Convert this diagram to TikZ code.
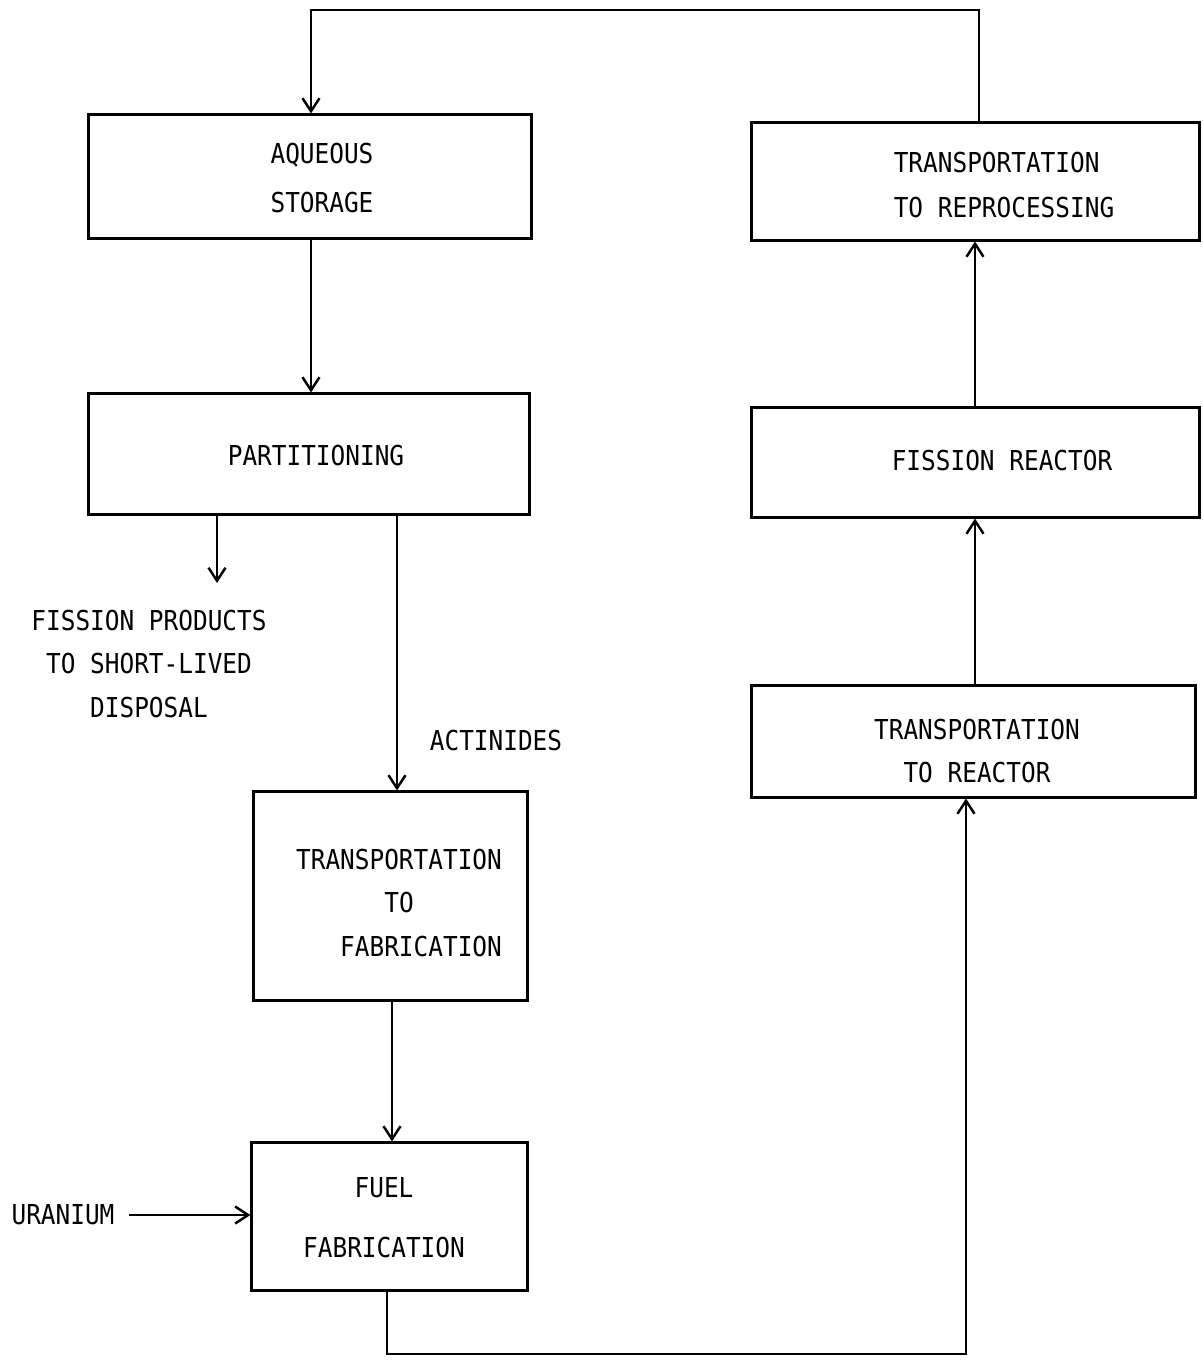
\documentclass[tikz,border=0pt]{standalone}
\usepackage{fontspec}
\newfontfamily\typefont[FakeStretch=0.89]{DejaVu Sans Mono}
\usetikzlibrary{arrows.meta}

\tikzset{
  blk/.style={draw,line width=0.85pt,inner sep=0pt},
  txt/.style={font=\typefont\fontsize{7.8}{12.5}\selectfont,inner sep=0pt},
  arr/.style={line width=0.7pt,-{Straight Barb[length=1.3mm,width=1.7mm]}}
}

\begin{document}
\begin{tikzpicture}[x=0.01cm,y=-0.01cm]
\useasboundingbox (0,0) rectangle (1202,1361);

% left column
\node[blk,minimum width=4.42cm,minimum height=1.23cm] (aqst) at (310,176.5) {};
\node[blk,minimum width=4.40cm,minimum height=1.20cm] (part) at (309,454) {};
\node[blk,minimum width=2.73cm,minimum height=2.08cm] (trfab) at (390.5,896) {};
\node[blk,minimum width=2.75cm,minimum height=1.47cm] (fuel) at (389.5,1216.5) {};

% right column
\node[blk,minimum width=4.47cm,minimum height=1.17cm] (trrep) at (975.5,181.5) {};
\node[blk,minimum width=4.47cm,minimum height=1.09cm] (fiss) at (975.5,462.5) {};
\node[blk,minimum width=4.43cm,minimum height=1.11cm] (trreac) at (973.5,741.5) {};

% texts
\node[txt,align=center] (aqtxt) at (322,178) {AQUEOUS\\[1.7pt]STORAGE};
\node[txt] (parttxt) at (316,456) {PARTITIONING};
\node[txt,align=center] (fptxt) at (149,664) {FISSION PRODUCTS\\TO SHORT-LIVED\\DISPOSAL};
\node[txt] (actxt) at (496,741) {ACTINIDES};
\node[txt,align=left] (trfabtxt) at (399,903) {TRANSPORTATION\\\hphantom{000000}TO\\\hphantom{000}FABRICATION};
\node[txt,align=center] (fueltxt) at (384,1218) {FUEL\\[4.5pt]FABRICATION};
\node[txt] (urtxt) at (63,1215) {URANIUM};
\node[txt,align=left] (trreptxt) at (1004,185) {TRANSPORTATION\\[0.5pt]TO REPROCESSING};
\node[txt] (fisstxt) at (1002,461) {FISSION REACTOR};
\node[txt,align=center] (trreactxt) at (977,751) {TRANSPORTATION\\TO REACTOR};

\coordinate (tr) at (979,10);
\coordinate (tl) at (311,10);
\coordinate (fp) at (217,583);
\coordinate (bl) at (387,1354);
\coordinate (br) at (966,1354);

% flows
\draw[arr] (trrep.north -| tr) -- (tr) -- (tl) -- (aqst.north -| tl);
\draw[arr] (aqst.south -| tl) -- (part.north -| tl);
\draw[arr] (part.south -| fp) -- (fp);
\draw[arr] (part.south -| 397,0) -- (trfab.north -| 397,0);
\draw[arr] (trfab.south -| 392,0) -- (fuel.north -| 392,0);
\draw[arr] ([xshift=4pt]urtxt.east) -- (urtxt.east -| fuel.west);
\draw[arr] (fuel.south -| bl) -- (bl) -- (br) -- (trreac.south -| br);
\draw[arr] (trreac.north -| 975,0) -- (fiss.south -| 975,0);
\draw[arr] (fiss.north -| 975,0) -- (trrep.south -| 975,0);
\end{tikzpicture}
\end{document}
